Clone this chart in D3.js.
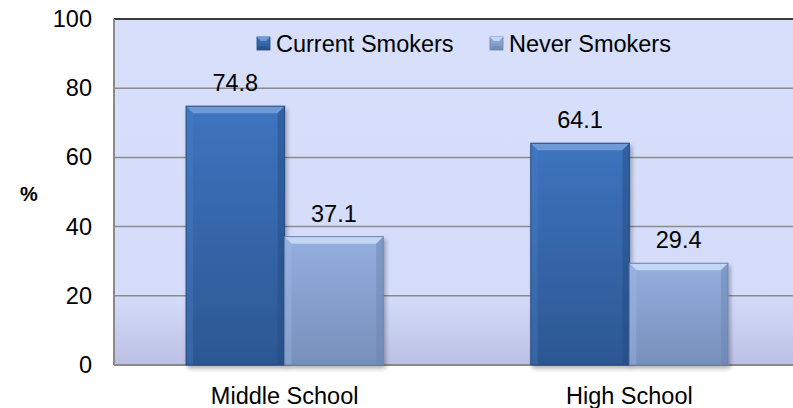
<!DOCTYPE html>
<html>
<head>
<meta charset="utf-8">
<script src="https://cdn.jsdelivr.net/npm/d3@7"></script>
<style>
  html, body { margin: 0; padding: 0; background: #ffffff; }
  svg { display: block; font-family: "Liberation Sans", Arial, sans-serif; }
</style>
</head>
<body>
<svg id="chart" width="793" height="408"></svg>
<script>
const categories = ["Middle School", "High School"];
const seriesNames = ["Current Smokers", "Never Smokers"];
const currentSmokers = [74.8, 64.1];
const neverSmokers = [37.1, 29.4];
const yTicks = [0, 20, 40, 60, 80, 100];
const yAxisLabel = "%";

(function () {
const seriesValues = [currentSmokers, neverSmokers];
const FS = 23.5;

const svg = d3.select("#chart");
const pL = 114, pR = 800, pT = 19, pB = 365;

const x0 = d3.scaleBand().domain(categories).range([pL, pR])
  .paddingInner(0.428).paddingOuter(0.209);
const x1 = d3.scaleBand().domain(seriesNames).range([0, x0.bandwidth()]).padding(0);
const y = d3.scaleLinear().domain([0, 100]).range([pB, pT]);

const defs = svg.append("defs");
const bg = defs.append("linearGradient").attr("id", "bg").attr("x1", 0).attr("y1", 0).attr("x2", 0).attr("y2", 1);
bg.append("stop").attr("offset", "0%").attr("stop-color", "#d7dffb");
bg.append("stop").attr("offset", "80%").attr("stop-color", "#d4dcf9");
bg.append("stop").attr("offset", "100%").attr("stop-color", "#bcc0e4");

const palettes = {
  "Current Smokers": { top: "#3d74bf", bottom: "#2c5792", light: "#6f9ad6", side: "#4a7fc6", dark: "#244a80" },
  "Never Smokers":   { top: "#94afe0", bottom: "#7790bb", light: "#c3d6f3", side: "#a3bbe6", dark: "#6a82ad" }
};
seriesNames.forEach((s, i) => {
  const g = defs.append("linearGradient").attr("id", "bar" + i).attr("x1", 0).attr("y1", 0).attr("x2", 0).attr("y2", 1);
  g.append("stop").attr("offset", "0%").attr("stop-color", palettes[s].top);
  g.append("stop").attr("offset", "100%").attr("stop-color", palettes[s].bottom);
});
const f = defs.append("filter").attr("id", "shadow").attr("x", "-10%").attr("y", "-10%").attr("width", "120%").attr("height", "130%");
f.append("feDropShadow").attr("dx", 2).attr("dy", 3).attr("stdDeviation", 2).attr("flood-color", "#000").attr("flood-opacity", 0.3);

// plot background
svg.append("rect").attr("x", pL).attr("y", pT).attr("width", pR - pL).attr("height", pB - pT).attr("fill", "url(#bg)");

// gridlines
svg.append("g").selectAll("line").data(yTicks.filter(t => t > 0 && t < 100)).join("line")
  .attr("x1", pL).attr("x2", pR).attr("y1", d => y(d)).attr("y2", d => y(d))
  .attr("stroke", "#8c8c8c").attr("stroke-width", 1.5);

// borders
svg.append("line").attr("x1", pL).attr("x2", pR).attr("y1", pT).attr("y2", pT).attr("stroke", "#3a3a3a").attr("stroke-width", 2);
svg.append("line").attr("x1", pL).attr("x2", pL).attr("y1", pT).attr("y2", pB).attr("stroke", "#8a8a8a").attr("stroke-width", 2);
svg.append("line").attr("x1", pL).attr("x2", pR).attr("y1", pB).attr("y2", pB).attr("stroke", "#8a8a8a").attr("stroke-width", 2);

// y axis
const yAxis = d3.axisLeft(y).tickValues(yTicks).tickSize(0).tickPadding(22);
const ya = svg.append("g").attr("transform", `translate(${pL},0)`).call(yAxis);
ya.select(".domain").remove();
ya.selectAll("text").attr("font-size", FS).attr("fill", "#000").attr("font-family", "Liberation Sans, Arial, sans-serif");

svg.append("text").attr("x", 29).attr("y", 201).attr("text-anchor", "middle")
  .attr("font-size", 20).attr("font-weight", "bold").text(yAxisLabel);

// x axis labels
const xAxis = d3.axisBottom(x0).tickSize(0).tickPadding(22);
const xa = svg.append("g").attr("transform", `translate(0,${pB})`).call(xAxis);
xa.select(".domain").remove();
xa.selectAll("text").attr("font-size", FS).attr("fill", "#000").attr("font-family", "Liberation Sans, Arial, sans-serif");

// bars
const bev = 7;
const groups = svg.append("g").selectAll("g").data(categories).join("g")
  .attr("transform", d => `translate(${x0(d)},0)`);
seriesNames.forEach((s, si) => {
  const p = palettes[s];
  const bar = groups.append("g").attr("filter", "url(#shadow)");
  bar.each(function(cat, ci) {
    const v = seriesValues[si][ci];
    const bx = x1(s), bw = x1.bandwidth(), by = y(v), bh = y(0) - y(v);
    const g = d3.select(this);
    g.append("rect").attr("x", bx).attr("y", by).attr("width", bw).attr("height", bh).attr("fill", `url(#bar${si})`);
    g.append("path").attr("d", `M${bx},${by}L${bx + bw},${by}L${bx + bw - bev},${by + bev}L${bx + bev},${by + bev}Z`).attr("fill", p.light);
    g.append("path").attr("d", `M${bx},${by}L${bx + bev},${by + bev}L${bx + bev},${by + bh}L${bx},${by + bh}Z`).attr("fill", p.side).attr("opacity", 0.35);
    g.append("path").attr("d", `M${bx + bw},${by}L${bx + bw - bev},${by + bev}L${bx + bw - bev},${by + bh}L${bx + bw},${by + bh}Z`).attr("fill", p.dark).attr("opacity", 0.45);
    g.append("rect").attr("x", bx).attr("y", by).attr("width", bw).attr("height", bh).attr("fill", "none").attr("stroke", p.dark).attr("stroke-width", 1);
  });
  groups.append("text")
    .attr("x", x1(s) + x1.bandwidth() / 2)
    .attr("y", (d, ci) => y(seriesValues[si][ci]) - 15)
    .attr("text-anchor", "middle").attr("font-size", FS).attr("fill", "#000")
    .text((d, ci) => seriesValues[si][ci].toFixed(1));
});

// legend
const legendItems = [{ name: seriesNames[0], x: 257 }, { name: seriesNames[1], x: 490 }];
legendItems.forEach((it, i) => {
  const p = palettes[it.name];
  const g = svg.append("g").attr("transform", `translate(${it.x},37)`);
  g.append("rect").attr("width", 13).attr("height", 13).attr("fill", `url(#bar${i})`).attr("stroke", p.dark).attr("stroke-width", 0.8);
  g.append("path").attr("d", "M0,0L13,0L9,4L4,4Z").attr("fill", p.light);
  g.append("path").attr("d", "M0,13L13,13L9,9L4,9Z").attr("fill", p.dark).attr("opacity", 0.5);
  g.append("text").attr("x", 19).attr("y", 14.5).attr("font-size", FS).attr("fill", "#000").text(it.name);
});
})();
</script>
</body>
</html>
